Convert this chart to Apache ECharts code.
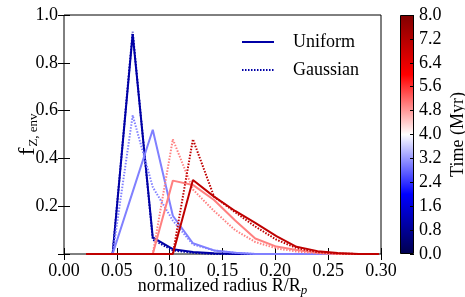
<!DOCTYPE html>
<html>
<head>
<meta charset="utf-8">
<script src="https://cdn.jsdelivr.net/npm/echarts@6/dist/echarts.min.js"></script>
<style>
    html, body { margin: 0; padding: 0; background: #fff; }
    #main { width: 465px; height: 297px; }
</style>
</head>
<body>
<div id="main"></div>
<script>
// radius grid shared by every profile
var radius = [0.021, 0.046, 0.065, 0.084, 0.103, 0.122, 0.142, 0.162, 0.181, 0.201, 0.220, 0.240, 0.259, 0.279, 0.298]
var times = [1, 3, 5, 7]

// f_Z,env per time, uniform initial profile
var uniform1 = [0, 0, 0.92, 0.07, 0.02, 0.008, 0.003, 0, 0, 0, 0, 0, 0, 0, 0]
var uniform3 = [0, 0, 0.26, 0.52, 0.16, 0.045, 0.015, 0.005, 0, 0, 0, 0, 0, 0, 0]
var uniform5 = [0, 0, 0, 0, 0.307, 0.289, 0.226, 0.14, 0.065, 0.031, 0.017, 0.005, 0, 0, 0]
var uniform7 = [0, 0, 0, 0, 0, 0.31, 0.24, 0.18, 0.13, 0.075, 0.03, 0.012, 0.004, 0, 0]

// gaussian initial profile
var gauss1 = [0, 0, 0.93, 0.06, 0.015, 0.005, 0, 0, 0, 0, 0, 0, 0, 0, 0]
var gauss3 = [0, 0, 0.58, 0.28, 0.14, 0.04, 0.015, 0.005, 0, 0, 0, 0, 0, 0, 0]
var gauss5 = [0, 0, 0, 0, 0.48, 0.27, 0.18, 0.10, 0.05, 0.024, 0.01, 0.003, 0, 0, 0]
var gauss7 = [0, 0, 0, 0, 0, 0.48, 0.24, 0.175, 0.115, 0.06, 0.025, 0.008, 0.002, 0, 0]

var xTicks = [0, 0.05, 0.10, 0.15, 0.20, 0.25, 0.30]
var yTicks = [0, 0.2, 0.4, 0.6, 0.8, 1.0]
var barTicks = [0, 0.8, 1.6, 2.4, 3.2, 4.0, 4.8, 5.6, 6.4, 7.2, 8.0]

var uniformList = [uniform1, uniform3, uniform5, uniform7]
var gaussList = [gauss1, gauss3, gauss5, gauss7]

// matplotlib "seismic" stops
var seismic = [[0, 0, 0.3], [0, 0, 1], [1, 1, 1], [1, 0, 0], [0.5, 0, 0]]
function seismicColor(f) {
    var s = f * 4, i = Math.min(Math.floor(s), 3), t = s - i
    var a = seismic[i], b = seismic[i + 1]
    var c = [0, 1, 2].map(function (k) { return Math.round((a[k] + (b[k] - a[k]) * t) * 255) })
    return 'rgb(' + c.join(',') + ')'
}

var FONT = '"Liberation Serif", "DejaVu Serif", serif'

var chart = function () {}

chart.prototype = {
    init: function () {
        var myChart = echarts.init(document.getElementById('main'))
        myChart.setOption(this.buildOption())
    },
    pairs: function (vals) {
        return radius.map(function (r, i) { return [r, vals[i]] })
    },
    buildOption: function () {
        var self = this
        var tMax = barTicks[barTicks.length - 1]
        var series = []
        times.forEach(function (t, i) {
            var col = seismicColor(t / tMax)
            series.push({
                name: 'u' + t, type: 'line', symbol: 'none', silent: true,
                data: self.pairs(uniformList[i]),
                lineStyle: { color: col, width: 2 }
            })
            series.push({
                name: 'g' + t, type: 'line', symbol: 'none', silent: true,
                data: self.pairs(gaussList[i]),
                lineStyle: { color: col, width: 2, type: [1.5, 1.5] }
            })
        })
        // legend dummies
        var navy = seismicColor(1 / tMax)
        series.push({ name: 'Uniform', type: 'line', symbol: 'none', data: [], itemStyle: { color: navy }, lineStyle: { color: navy, width: 2 } })
        series.push({ name: 'Gaussian', type: 'line', symbol: 'none', data: [], itemStyle: { color: navy }, lineStyle: { color: navy, width: 2, type: [1.5, 1.5] } })

        // colour bar
        series.push({
            type: 'bar', xAxisIndex: 2, yAxisIndex: 2, data: [tMax], barWidth: '100%', silent: true,
            itemStyle: {
                borderColor: '#000', borderWidth: 1,
                color: new echarts.graphic.LinearGradient(0, 0, 0, 1, [
                    { offset: 0, color: seismicColor(1) },
                    { offset: 0.25, color: seismicColor(0.75) },
                    { offset: 0.5, color: seismicColor(0.5) },
                    { offset: 0.75, color: seismicColor(0.25) },
                    { offset: 1, color: seismicColor(0) }
                ])
            }
        })

        var lineAx = { show: false }
        var tick = { show: true, inside: true, length: 6, lineStyle: { color: '#000' } }
        var label = { color: '#000', fontFamily: FONT, fontSize: 18 }

        return {
            animation: false,
            backgroundColor: '#fff',
            grid: [
                { left: 64, right: 84, top: 15, bottom: 43, outerBoundsMode: 'none', show: true, borderColor: '#000', borderWidth: 1, backgroundColor: 'transparent' },
                { left: 400, width: 14, top: 15, bottom: 43, outerBoundsMode: 'none' }
            ],
            legend: {
                data: ['Uniform', 'Gaussian'],
                orient: 'vertical', left: 236, top: 28, itemWidth: 32, itemHeight: 10, itemGap: 10,
                itemStyle: { opacity: 0 },
                textStyle: { color: '#000', fontFamily: FONT, fontSize: 18, padding: [0, 0, 0, 14] }
            },
            xAxis: [
                {
                    type: 'value', min: xTicks[0], max: xTicks[xTicks.length - 1], interval: 0.05,
                    axisLine: lineAx, axisTick: tick, splitLine: { show: false },
                    axisLabel: Object.assign({ margin: 8, formatter: function (v) { return v.toFixed(2) } }, label),
                    name: 'normalized radius R/R{sub|p}', nameLocation: 'middle', nameGap: 22, nameMoveOverlap: false,
                    nameTextStyle: {
                        color: '#000', fontFamily: FONT, fontSize: 18,
                        rich: { sub: { fontFamily: FONT, fontSize: 13, fontStyle: 'italic', color: '#000', verticalAlign: 'bottom', padding: [8, 0, 0, 0] } }
                    }
                },
                {
                    type: 'value', position: 'top', min: xTicks[0], max: xTicks[xTicks.length - 1], interval: 0.05,
                    axisLine: lineAx, axisTick: tick, axisLabel: { show: false }, splitLine: { show: false }
                },
                { type: 'category', gridIndex: 1, data: [''], show: false }
            ],
            yAxis: [
                {
                    type: 'value', min: yTicks[0], max: yTicks[yTicks.length - 1], interval: 0.2,
                    axisLine: lineAx, axisTick: tick, splitLine: { show: false },
                    axisLabel: Object.assign({ margin: 6, formatter: function (v) { return v === 0 ? '' : v.toFixed(1) } }, label),
                    name: '{f|f}{sub|Z, env}', nameLocation: 'middle', nameGap: 24, nameRotate: 90, nameMoveOverlap: false,
                    nameTextStyle: {
                        color: '#000', fontFamily: FONT,
                        rich: {
                            f: { fontFamily: FONT, fontSize: 24, color: '#000' },
                            sub: { fontFamily: FONT, fontSize: 13, color: '#000', verticalAlign: 'bottom', padding: [10, 0, 0, 1] }
                        }
                    }
                },
                {
                    type: 'value', position: 'right', min: yTicks[0], max: yTicks[yTicks.length - 1], interval: 0.2,
                    axisLine: lineAx, axisTick: tick, axisLabel: { show: false }, splitLine: { show: false }
                },
                {
                    type: 'value', gridIndex: 1, position: 'right', min: barTicks[0], max: tMax, interval: 0.8, z: 10,
                    axisLine: lineAx, splitLine: { show: false },
                    axisTick: { show: true, inside: true, length: 4, lineStyle: { color: '#000' } },
                    axisLabel: Object.assign({ margin: 5, formatter: function (v) { return v.toFixed(1) } }, label),
                    name: 'Time (Myr)', nameLocation: 'middle', nameGap: 35, nameRotate: 90, nameMoveOverlap: false,
                    nameTextStyle: { color: '#000', fontFamily: FONT, fontSize: 18 }
                }
            ],
            series: series
        }
    }
}

new chart().init()
</script>
</body>
</html>
